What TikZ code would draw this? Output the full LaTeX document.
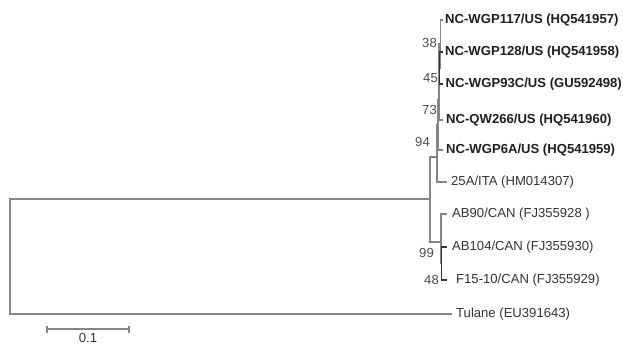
\documentclass[tikz,border=0pt]{standalone}
\usepackage{fontspec}
\setmainfont{Liberation Sans}
\begin{document}
\begin{tikzpicture}[x=1pt,y=-1pt,
  br/.style={draw=black!48,line width=1.2pt},
  dk/.style={draw=black!80,line width=1.5pt},
  leaf/.style={anchor=west,inner sep=0pt,text=black!80,font=\fontsize{13.1}{15}\selectfont},
  bleaf/.style={leaf,text=black!88,font=\fontsize{13.1}{15}\selectfont\bfseries},
  bs/.style={anchor=east,inner sep=0pt,text=black!70,font=\fontsize{13.1}{15}\selectfont}]
\useasboundingbox (0,0) rectangle (623,345);
% leaf ends
\coordinate (l1) at (443,20);
\coordinate (l2) at (443,52);
\coordinate (l3) at (443,84);
\coordinate (l4) at (443,120);
\coordinate (l5) at (443,150);
\coordinate (l6) at (447,182);
\coordinate (l7) at (447,214);
\coordinate (l8) at (447,247);
\coordinate (l9) at (447,280);
\coordinate (l10) at (452,314);
% internal nodes
\coordinate (n45) at (439.5,68);
\coordinate (n38) at (440.5,44);
\coordinate (n73) at (439,100);
\coordinate (n94) at (438,125);
\coordinate (nA) at (437,157);
\coordinate (n48) at (441.5,263);
\coordinate (nCAN) at (441,242);
\coordinate (nIn) at (430,199);
\coordinate (root) at (10,256.5);
% branches
\draw[br] (root) |- (nIn);
\draw[br] (root) |- (l10);
\draw[br] (nIn) |- (nA);
\draw[br] (nIn) |- (nCAN);
\draw[br] (nA) |- (n94);
\draw[br] (nA) |- (l6);
\draw[br,line width=1.6pt] (n94) |- (n73);
\draw[br,line width=1.6pt] (n94) |- (l5);
\draw[br] (n73) |- (n38);
\draw[br] (n73) |- (l4);
\draw[br] (n38) |- (l1);
\draw[br] (n38) |- (n45);
\draw[dk] (n45) |- (l2);
\draw[dk] (n45) |- (l3);
\draw[br] (nCAN) |- (l7);
\draw[br] (nCAN) |- (n48);
\draw[dk] (n48) |- (l8);
\draw[dk] (n48) |- (l9);
% leaf labels
\node[bleaf] (t1) at (445,20) {NC-WGP117/US (HQ541957)};
\node[bleaf] (t2) at (445,52) {NC-WGP128/US (HQ541958)};
\node[bleaf] (t3) at (445.5,84) {NC-WGP93C/US (GU592498)};
\node[bleaf] (t4) at (446,120) {NC-QW266/US (HQ541960)};
\node[bleaf] (t5) at (446,150) {NC-WGP6A/US (HQ541959)};
\node[leaf] (t6) at (451,182) {25A/ITA (HM014307)};
\node[leaf] (t7) at (452,214) {AB90/CAN (FJ355928 )};
\node[leaf] (t8) at (452,247) {AB104/CAN (FJ355930)};
\node[leaf] (t9) at (456,280) {F15-10/CAN (FJ355929)};
\node[leaf] (t10) at (456,314) {Tulane (EU391643)};
% bootstrap values
\node[bs] (b38) at (437,43) {38};
\node[bs] (b45) at (438,78) {45};
\node[bs] (b73) at (437,110) {73};
\node[bs] (b94) at (430,142) {94};
\node[bs] (b99) at (434,253) {99};
\node[bs] (b48) at (439,280) {48};
% scale bar
\coordinate (s1) at (47,329);
\coordinate (s2) at (129,329);
\draw[br,line width=1.3pt] (s1) -- (s2);
\draw[br,line width=1.3pt] ([yshift=-3.5pt]s1) -- ([yshift=3.5pt]s1);
\draw[br,line width=1.3pt] ([yshift=-3.5pt]s2) -- ([yshift=3.5pt]s2);
\node[anchor=north,inner sep=0pt,text=black!80,font=\fontsize{13.1}{15}\selectfont] (sl) at (88,333) {0.1};
\end{tikzpicture}
\end{document}
